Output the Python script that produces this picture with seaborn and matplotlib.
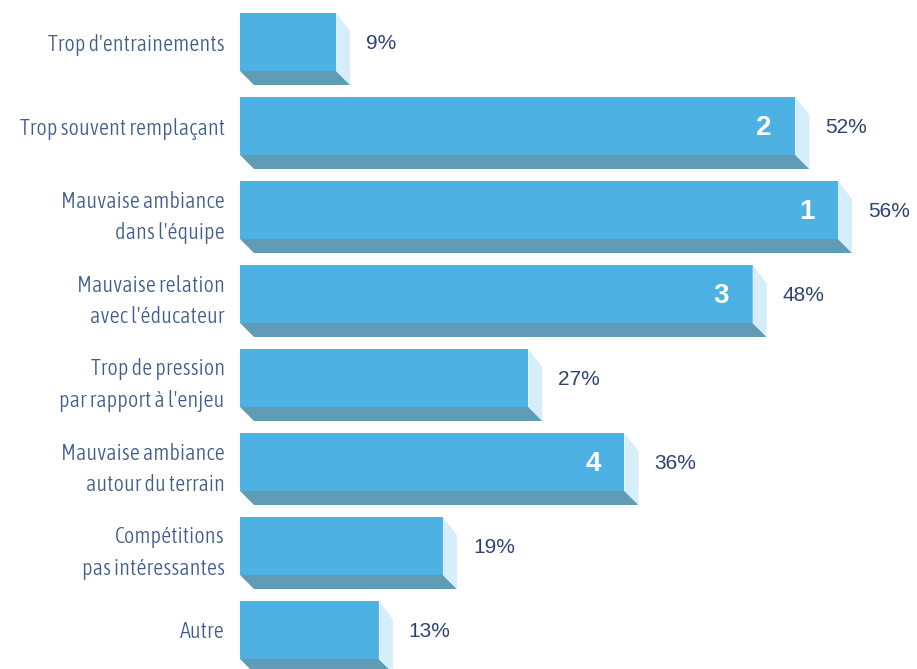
import matplotlib
matplotlib.use("Agg")
import matplotlib.pyplot as plt
from matplotlib.patches import Polygon
from matplotlib import font_manager
from matplotlib.font_manager import FontProperties
import seaborn as sns
import pandas as pd

categories = [
    "Trop d'entrainements",
    "Trop souvent remplaçant",
    "Mauvaise ambiance\ndans l'équipe",
    "Mauvaise relation\navec l'éducateur",
    "Trop de pression\npar rapport à l'enjeu",
    "Mauvaise ambiance\nautour du terrain",
    "Compétitions\npas intéressantes",
    "Autre",
]
values = [9, 52, 56, 48, 27, 36, 19, 13]
ranks = ["", "2", "1", "3", "", "4", "", ""]

FRONT = "#4DB1E3"
BOTTOM = "#609CB5"
SIDE = "#D6EDFA"
LABEL_COL = "#3E5C8C"
PCT_COL = "#2D4272"

# pick a condensed font if one is installed
cands = []
for f in font_manager.fontManager.ttflist:
    st = str(f.stretch)
    if ("condensed" in st or "Condensed" in f.name or "Narrow" in f.name) and f.style == "normal":
        w = f.weight if isinstance(f.weight, int) else 400
        cands.append((abs(w - 300), f.fname))
cands.sort()
if cands:
    label_fp = FontProperties(fname=cands[0][1])
else:
    label_fp = FontProperties(family="DejaVu Sans")

sns.set_style("white")
plt.rcParams["font.family"] = ["Liberation Sans", "DejaVu Sans"]

W, H = 917, 669
fig = plt.figure(figsize=(W / 100, H / 100), dpi=100)
left_px = 240
px_per_pct = 10.68
pitch = 84.0
ax = fig.add_axes([left_px / W, 0, (W - left_px) / W, 1])

df = pd.DataFrame({"cat": categories, "val": values})
bw = 58 / pitch
sns.barplot(data=df, x="val", y="cat", orient="h", color=FRONT, saturation=1,
            width=bw, ax=ax, linewidth=0)

ax.set_xlim(0, (W - left_px) / px_per_pct)
ax.set_ylim((H - 42) / pitch, -42 / pitch)

dx = 14 / px_per_pct
dy = 14 / pitch
for i, v in enumerate(values):
    yt = i - bw / 2
    yb = i + bw / 2
    ax.add_patch(Polygon([(0, yb), (v, yb), (v + dx, yb + dy), (dx, yb + dy)],
                         closed=True, facecolor=BOTTOM, edgecolor="none", zorder=3))
    ax.add_patch(Polygon([(v, yt), (v + dx, yt + dy * 1.3), (v + dx, yb + dy), (v, yb)],
                         closed=True, facecolor=SIDE, edgecolor="none", zorder=3))
    ax.text(v + dx + 1.5, i + 0.02, f"{v}%", ha="left", va="center",
            fontsize=15, color=PCT_COL)
    if ranks[i]:
        ax.text(v - 2.2, i + 0.02, ranks[i], ha="right", va="center",
                fontsize=20, fontweight="bold", color="white", zorder=4)

ax.set_xlabel("")
ax.set_ylabel("")
ax.set_xticks([])
ax.set_yticks(range(len(categories)))

# fit label size so the widest line spans ~210 px
renderer = fig.canvas.get_renderer()
size = 15.0
probe = fig.text(0, 0, "Trop souvent remplaçant", fontproperties=label_fp, fontsize=size)
wpx = probe.get_window_extent(renderer).width
probe.remove()
size = min(16.0, size * 208.0 / wpx)
lp = label_fp.copy()
lp.set_size(size)
ax.set_yticklabels(categories, fontproperties=lp, color=LABEL_COL, linespacing=1.55)
ax.tick_params(axis="y", length=0, pad=11)
for s in ax.spines.values():
    s.set_visible(False)

fig.savefig("out.png", dpi=100)
